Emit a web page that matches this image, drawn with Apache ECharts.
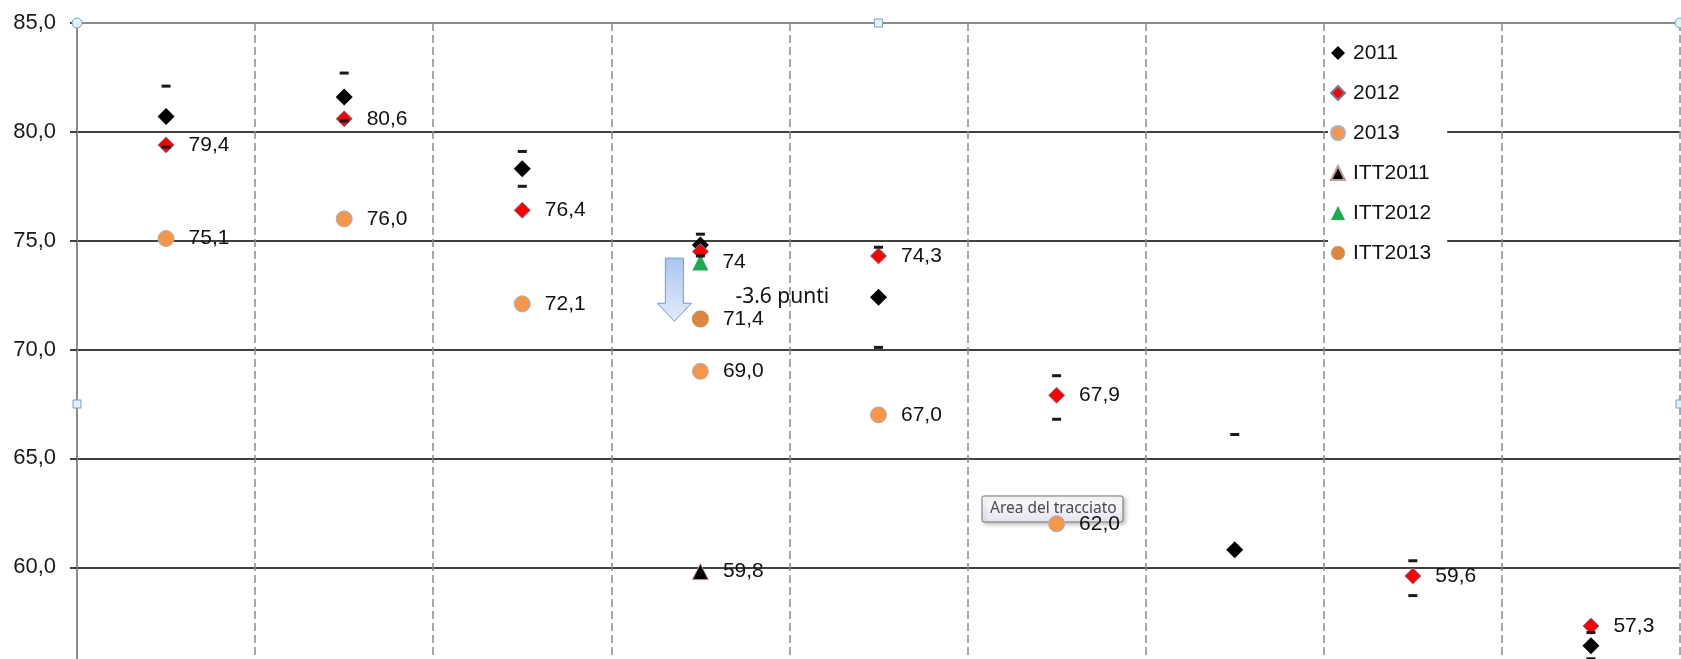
<!DOCTYPE html>
<html>
<head>
<meta charset="utf-8">
<script src="https://cdn.jsdelivr.net/npm/echarts@6/dist/echarts.min.js"></script>
<style>
  html, body { margin: 0; padding: 0; background: #ffffff; overflow: hidden; width: 1681px; height: 659px; }
  #wrap { width: 1681px; height: 659px; overflow: hidden; position: relative; }
  #main { width: 1681px; height: 820px; position: absolute; left: 0; top: 0; }
</style>
</head>
<body>
<div id="wrap"><div id="main"></div></div>
<script>
// ---------------- data ----------------
const categories = ['1', '2', '3', '4', '5', '6', '7', '8', '9'];
const s2011   = [80.7, 81.6, 78.3, 74.8, 72.4, null, 60.8, null, 56.4];
const s2012   = [79.4, 80.6, 76.4, 74.5, 74.3, 67.9, null, 59.6, 57.3];
const s2013   = [75.1, 76.0, 72.1, 69.0, 67.0, 62.0, null, null, null];
const itt2011 = [null, null, null, 59.8, null, null, null, null, null];
const itt2012 = [null, null, null, 74.0, null, null, null, null, null];
const itt2013 = [null, null, null, 71.4, null, null, null, null, null];
// interval bounds of the 2011 series (drawn as short dashes)
const ciUpper = [82.1, 82.7, 79.1, 75.3, 74.7, 68.8, 66.1, 60.3, 57.0];
const ciLower = [79.3, 80.5, 77.5, 74.3, 70.1, 66.8, 55.5, 58.7, 55.8];
const hidden2012Labels = [3];
const yTicks = { min: 50, max: 85, interval: 5 };
const annotationText = '-3.6 punti';
const tooltipText = 'Area del tracciato';

// ---------------- chart ----------------
const FONT = 'Liberation Sans';
const fmt1 = v => (v == null ? '' : Number(v).toFixed(1).replace('.', ','));
const chart = echarts.init(document.getElementById('main'), null, { renderer: 'canvas', width: 1681, height: 820 });

const labelBase = {
  show: true, position: 'right', distance: 14,
  fontFamily: FONT, fontSize: 21, color: '#111111'
};

function withHidden(arr, hideIdx) {
  return arr.map((v, i) => {
    if (v == null) return null;
    if (hideIdx.indexOf(i) >= 0) return { value: v, label: { show: false } };
    return v;
  });
}

const option = {
  animation: false,
  backgroundColor: '#ffffff',
  grid: { left: 77, right: 1, top: 23, bottom: 35, containLabel: false, outerBoundsMode: 'none' },
  legend: {
    orient: 'vertical',
    left: 1328, top: 33,
    padding: [8, 16, 8, 2],
    backgroundColor: '#ffffff',
    itemWidth: 14, itemHeight: 14, itemGap: 16,
    textStyle: { fontFamily: FONT, fontSize: 21, color: '#111111', lineHeight: 24, padding: [0, 0, 0, 3] },
    data: ['2011', '2012', '2013', 'ITT2011', 'ITT2012', 'ITT2013']
  },
  xAxis: {
    type: 'category',
    data: categories,
    boundaryGap: true,
    axisLine: { show: false },
    axisTick: { show: false },
    axisLabel: { show: false },
    splitLine: { show: true, lineStyle: { color: '#8a8a8a', width: 1.5, type: [8, 4] } }
  },
  yAxis: {
    type: 'value',
    min: yTicks.min, max: yTicks.max, interval: yTicks.interval,
    axisLine: { show: true, lineStyle: { color: '#8c8c8c', width: 2 } },
    axisTick: { show: true, length: 7, lineStyle: { color: '#404040', width: 2 } },
    axisLabel: { margin: 21, fontFamily: FONT, fontSize: 22, color: '#1a1a1a', formatter: fmt1 },
    splitLine: {
      show: true,
      lineStyle: { color: ['#404040', '#404040', '#404040', '#404040', '#404040', '#404040', '#404040', '#8c8c8c'], width: 2 }
    }
  },
  series: [
    {
      name: '2011', type: 'scatter', symbol: 'diamond', symbolSize: 17,
      itemStyle: { color: '#000000', opacity: 1 },
      data: s2011
    },
    {
      name: '2012', type: 'scatter', symbol: 'diamond', symbolSize: 16,
      itemStyle: { color: '#ff0000', borderColor: '#6f7f99', borderWidth: 1, opacity: 1 },
      label: Object.assign({}, labelBase, { formatter: p => fmt1(p.value) }),
      data: withHidden(s2012, hidden2012Labels)
    },
    {
      name: '2013', type: 'scatter', symbol: 'circle', symbolSize: 16,
      itemStyle: { color: '#f79646', borderColor: '#a3b3c9', borderWidth: 1, opacity: 1 },
      label: Object.assign({}, labelBase, { formatter: p => fmt1(p.value) }),
      data: s2013
    },
    {
      name: 'ITT2011', type: 'scatter', symbol: 'triangle', symbolSize: 16,
      itemStyle: { color: '#000000', borderColor: '#c99a9a', borderWidth: 1, opacity: 1 },
      label: Object.assign({}, labelBase, { formatter: p => fmt1(p.value) }),
      data: itt2011
    },
    {
      name: 'ITT2012', type: 'scatter', symbol: 'triangle', symbolSize: 16,
      itemStyle: { color: '#1aab4f', opacity: 1 },
      label: Object.assign({}, labelBase, { formatter: p => String(p.value).replace('.', ',') }),
      data: itt2012
    },
    {
      name: 'ITT2013', type: 'scatter', symbol: 'circle', symbolSize: 17,
      itemStyle: { color: '#dd8640', opacity: 1 },
      label: Object.assign({}, labelBase, { formatter: p => fmt1(p.value) }),
      data: itt2013
    },
    {
      name: 'upper', type: 'scatter', symbol: 'rect', symbolSize: [9, 3],
      itemStyle: { color: '#1a1a1a', opacity: 1 }, data: ciUpper
    },
    {
      name: 'lower', type: 'scatter', symbol: 'rect', symbolSize: [9, 3],
      itemStyle: { color: '#1a1a1a', opacity: 1 }, data: ciLower
    }
  ]
};
chart.setOption(option);

// ---------------- annotations ----------------
function px(catIdx, val) { return chart.convertToPixel({ gridIndex: 0 }, [catIdx, val]); }
const c0 = px(0, yTicks.max), c1 = px(1, yTicks.max);
const band = c1[0] - c0[0];
const leftX = c0[0] - band / 2;
const rightX = px(categories.length - 1, yTicks.max)[0] + band / 2;
const topY = c0[1];
const midY = px(0, (yTicks.min + yTicks.max) / 2)[1];

// arrow from ITT2012 to ITT2013 level, left of category 4
const aTop = px(3, 74.2), aBot = px(3, 71.3);
const ax = aTop[0] - 26;
const ay0 = aTop[1], ay1 = aBot[1];
const headH = 18, halfW = 17, halfShaft = 9;
const arrowPts = [
  [ax - halfShaft, ay0], [ax + halfShaft, ay0], [ax + halfShaft, ay1 - headH],
  [ax + halfW, ay1 - headH], [ax, ay1], [ax - halfW, ay1 - headH], [ax - halfShaft, ay1 - headH]
];
const textPos = px(3, 72.4);

const handleStyle = { fill: '#dff2f8', stroke: '#7f9fbf', lineWidth: 1 };
const tipX = 982, tipY = 496, tipW = 141, tipH = 26;

chart.setOption({
  graphic: [
    {
      type: 'polygon', shape: { points: arrowPts }, z: 100,
      style: {
        fill: new echarts.graphic.LinearGradient(0, 0, 0, 1, [
          { offset: 0, color: '#a9c5ee' }, { offset: 1, color: '#e4edf9' }
        ]),
        stroke: '#7599cc', lineWidth: 1
      }
    },
    {
      type: 'text', x: textPos[0] + 35, y: textPos[1], z: 100,
      style: { text: annotationText, fontFamily: 'Noto Sans', fontSize: 21, fill: '#111111', verticalAlign: 'middle' }
    },
    // plot-area selection handles
    { type: 'circle', shape: { cx: leftX, cy: topY, r: 5 }, style: handleStyle, z: 100 },
    { type: 'circle', shape: { cx: rightX, cy: topY, r: 5 }, style: handleStyle, z: 100 },
    { type: 'rect', shape: { x: (leftX + rightX) / 2 - 4, y: topY - 4, width: 8, height: 8 }, style: handleStyle, z: 100 },
    { type: 'rect', shape: { x: leftX - 4, y: midY - 4, width: 8, height: 8 }, style: handleStyle, z: 100 },
    { type: 'rect', shape: { x: rightX - 4, y: midY - 4, width: 8, height: 8 }, style: handleStyle, z: 100 },
    // tooltip overlay
    {
      type: 'group', z: 200,
      children: [
        {
          type: 'rect', shape: { x: tipX, y: tipY, width: tipW, height: tipH, r: 2 },
          style: {
            fill: new echarts.graphic.LinearGradient(0, 0, 0, 1, [
              { offset: 0, color: '#ffffff' }, { offset: 1, color: '#e3e4ee' }
            ]),
            stroke: '#767676', lineWidth: 1,
            shadowBlur: 4, shadowOffsetX: 2, shadowOffsetY: 2, shadowColor: 'rgba(0,0,0,0.25)'
          }
        },
        {
          type: 'text', x: tipX + 8, y: tipY + tipH / 2,
          style: { text: tooltipText, fontFamily: 'Noto Sans', fontSize: 15.5, fill: '#4a4a4a', verticalAlign: 'middle' }
        }
      ]
    }
  ]
});
</script>
</body>
</html>
